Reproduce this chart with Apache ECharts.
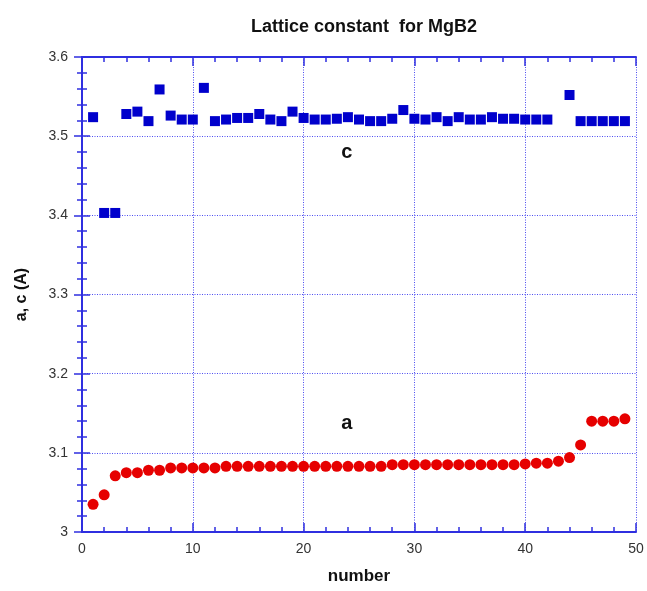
<!DOCTYPE html>
<html>
<head>
<meta charset="utf-8">
<script src="https://cdn.jsdelivr.net/npm/echarts@6/dist/echarts.min.js"></script>
<style>html,body{margin:0;padding:0;background:#fff;}#chart{width:647px;height:591px;}</style>
</head>
<body>
<div id="chart"></div>
<script>
var numbers = [];
for (var i = 1; i <= 49; i++) numbers.push(i);

var cValues = [3.524, 3.403, 3.403, 3.528, 3.531, 3.519, 3.559, 3.526, 3.521, 3.521,
  3.561, 3.519, 3.521, 3.523, 3.523, 3.528, 3.521, 3.519, 3.531, 3.523,
  3.521, 3.521, 3.522, 3.524, 3.521, 3.519, 3.519, 3.522, 3.533, 3.522,
  3.521, 3.524, 3.519, 3.524, 3.521, 3.521, 3.524, 3.522, 3.522, 3.521,
  3.521, 3.521, null, 3.552, 3.519, 3.519, 3.519, 3.519, 3.519];

var aValues = [3.035, 3.047, 3.071, 3.075, 3.075, 3.078, 3.078, 3.081, 3.081, 3.081,
  3.081, 3.081, 3.083, 3.083, 3.083, 3.083, 3.083, 3.083, 3.083, 3.083,
  3.083, 3.083, 3.083, 3.083, 3.083, 3.083, 3.083, 3.085, 3.085, 3.085,
  3.085, 3.085, 3.085, 3.085, 3.085, 3.085, 3.085, 3.085, 3.085, 3.086,
  3.087, 3.087, 3.0895, 3.094, 3.110, 3.140, 3.140, 3.140, 3.143];

var xTicks = [0, 10, 20, 30, 40, 50];
var yTicks = [3, 3.1, 3.2, 3.3, 3.4, 3.5, 3.6];
var annotations = [
  { text: 'c', x: 23.9, y: 3.48 },
  { text: 'a', x: 23.9, y: 3.137 }
];

function pairs(vals) {
  var out = [];
  for (var i = 0; i < numbers.length; i++) {
    if (vals[i] != null) out.push([numbers[i], vals[i]]);
  }
  return out;
}

var axisBlue = '#2f2fe0';
var gridBlue = '#3a3af0';
var font = '"Liberation Sans", Arial, sans-serif';

function xAxisCfg(pos, showLabels) {
  return {
    type: 'value', position: pos, min: xTicks[0], max: xTicks[xTicks.length - 1], interval: 10,
    name: showLabels ? 'number' : '', nameLocation: 'middle', nameGap: 36,
    nameTextStyle: { fontFamily: font, fontWeight: 'bold', fontSize: 17, color: '#111' },
    axisLine: { show: true, lineStyle: { color: axisBlue, width: 2 } },
    axisTick: { show: true, inside: true, length: 9, lineStyle: { color: axisBlue, width: 1.5 } },
    minorTick: { show: true, splitNumber: 5, length: 5, lineStyle: { color: axisBlue, width: 1.5 } },
    axisLabel: { show: showLabels, fontFamily: font, fontSize: 14, color: '#333', margin: 10 },
    splitLine: { show: showLabels, lineStyle: { color: gridBlue, type: [1, 1.5], width: 1, opacity: 0.9 } }
  };
}
function yAxisCfg(pos, showLabels) {
  return {
    type: 'value', position: pos, min: yTicks[0], max: yTicks[yTicks.length - 1], interval: 0.1,
    name: showLabels ? 'a, c (A)' : '', nameLocation: 'middle', nameGap: 52,
    nameTextStyle: { fontFamily: font, fontWeight: 'bold', fontSize: 16, color: '#111' },
    axisLine: { show: true, lineStyle: { color: axisBlue, width: 2 } },
    axisTick: { show: true, inside: true, length: 8, lineStyle: { color: axisBlue, width: 1.5 } },
    minorTick: { show: true, splitNumber: 5, length: 5, lineStyle: { color: axisBlue, width: 1.5 } },
    axisLabel: { show: showLabels, fontFamily: font, fontSize: 14, color: '#333', margin: 14,
      formatter: function (v) { return String(Math.round(v * 10) / 10); } },
    splitLine: { show: showLabels, lineStyle: { color: gridBlue, type: [1, 1.5], width: 1, opacity: 0.9 } }
  };
}

var chart = echarts.init(document.getElementById('chart'));
chart.setOption({
  animation: false,
  backgroundColor: '#fff',
  title: {
    text: 'Lattice constant  for MgB2', left: 359, top: 13, textAlign: 'center',
    textStyle: { fontFamily: font, fontWeight: 'bold', fontSize: 18, color: '#111' }
  },
  grid: { left: 82, right: 11, top: 57, bottom: 59, containLabel: false },
  xAxis: [xAxisCfg('bottom', true), xAxisCfg('top', false)],
  yAxis: [yAxisCfg('left', true), yAxisCfg('right', false)],
  series: [
    {
      name: 'c', type: 'scatter', symbol: 'rect', symbolSize: 10,
      itemStyle: { color: '#0000cc', opacity: 1 },
      data: pairs(cValues),
      markPoint: {
        symbol: 'circle', symbolSize: 0, silent: true,
        label: { show: true, formatter: '{b}', fontFamily: font, fontWeight: 'bold', fontSize: 20, color: '#111' },
        data: [{ name: annotations[0].text, coord: [annotations[0].x, annotations[0].y] }]
      }
    },
    {
      name: 'a', type: 'scatter', symbol: 'circle', symbolSize: 11,
      itemStyle: { color: '#e60000', opacity: 1 },
      data: pairs(aValues),
      markPoint: {
        symbol: 'circle', symbolSize: 0, silent: true,
        label: { show: true, formatter: '{b}', fontFamily: font, fontWeight: 'bold', fontSize: 20, color: '#111' },
        data: [{ name: annotations[1].text, coord: [annotations[1].x, annotations[1].y] }]
      }
    }
  ]
});
</script>
</body>
</html>
